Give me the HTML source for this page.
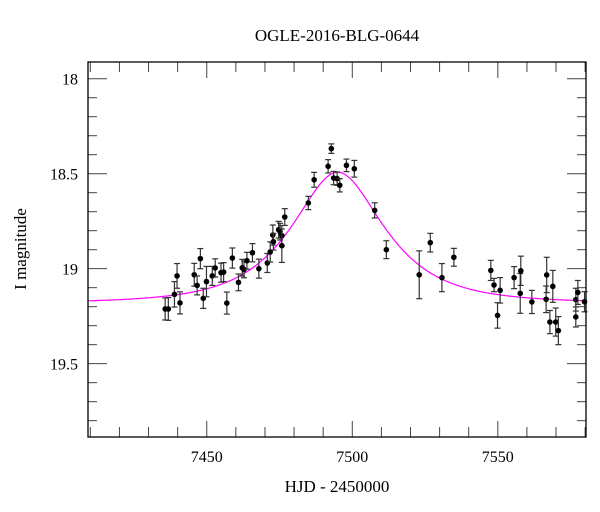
<!DOCTYPE html>
<html><head><meta charset="utf-8"><style>
body{margin:0;background:#fff}
svg{display:block;font-family:"Liberation Serif",serif}
</style></head><body>
<svg id="chart" width="600" height="512" viewBox="0 0 600 512" xmlns="http://www.w3.org/2000/svg">
<text x="337" y="41" text-anchor="middle" font-size="17">OGLE-2016-BLG-0644</text>
<text x="337" y="492" text-anchor="middle" font-size="17">HJD - 2450000</text>
<text transform="translate(26,249) rotate(-90)" text-anchor="middle" font-size="17">I magnitude</text>
<g id="axes"></g>
<g id="model"></g>
<g id="points"></g>
<rect x="88" y="62" width="498" height="375" fill="none" stroke="#000" stroke-width="1.3"/>
</svg>
<script>
const hjd=[7435.7,7436.8,7438.9,7439.8,7440.8,7445.7,7446.7,7447.8,7448.8,7449.9,7451.9,7452.9,7454.9,7455.8,7456.9,7458.8,7460.9,7462.2,7462.8,7463.8,7465.7,7467.9,7470.8,7471.8,7472.7,7472.9,7474.7,7475.2,7475.8,7475.8,7476.8,7484.9,7486.9,7491.7,7492.8,7493.6,7494.8,7495.7,7498.0,7500.7,7507.7,7511.7,7523.0,7526.8,7530.8,7534.9,7547.6,7548.7,7549.9,7550.8,7555.6,7557.7,7557.9,7561.7,7566.6,7566.8,7567.9,7568.9,7569.9,7570.8,7576.8,7576.8,7577.5,7579.8];
const mag=[19.212,19.212,19.135,19.038,19.18,19.032,19.088,18.947,19.156,19.068,19.038,18.996,19.021,19.018,19.181,18.944,19.072,18.995,19.004,18.958,18.916,19.0,18.97,18.912,18.823,18.858,18.795,18.805,18.826,18.879,18.728,18.654,18.532,18.461,18.368,18.523,18.526,18.561,18.456,18.474,18.693,18.9,19.032,18.863,19.047,18.94,19.009,19.086,19.246,19.114,19.047,19.13,19.011,19.175,19.161,19.033,19.281,19.093,19.281,19.326,19.163,19.254,19.125,19.174];
const magErr=[0.058,0.06,0.067,0.065,0.058,0.06,0.05,0.053,0.053,0.08,0.05,0.048,0.05,0.05,0.058,0.053,0.044,0.044,0.044,0.044,0.048,0.05,0.05,0.053,0.053,0.044,0.044,0.044,0.053,0.088,0.044,0.035,0.039,0.035,0.025,0.035,0.035,0.035,0.033,0.044,0.04,0.047,0.126,0.049,0.074,0.047,0.053,0.035,0.067,0.067,0.058,0.105,0.077,0.061,0.07,0.093,0.061,0.084,0.074,0.074,0.06,0.053,0.063,0.053];
const xTicks=[7450,7500,7550];
const yTicks=[18,18.5,19,19.5];
const model={base:19.18,t0:7495,u0:0.6,tE:25};
const X0=88,X1=586,Y0=62,Y1=437,xmin=7409.2,xmax=7580.3,ymin=17.912,ymax=19.886;
const sx=v=>X0+(v-xmin)/(xmax-xmin)*(X1-X0);
const sy=v=>Y0+(v-ymin)/(ymax-ymin)*(Y1-Y0);
const NS="http://www.w3.org/2000/svg";
function mk(tag,attrs,parent){const e=document.createElementNS(NS,tag);for(const k in attrs)e.setAttribute(k,attrs[k]);parent.appendChild(e);return e;}
const axes=document.getElementById('axes');
for(let t=7410;t<=7580;t+=10){
  const major=xTicks.includes(t);const L=major?16:10;const x=sx(t);
  const a=mk('line',{x1:x,x2:x,y1:Y1,y2:Y1-L,stroke:'#444','stroke-width':1},axes);
  
  
  const b=mk('line',{x1:x,x2:x,y1:Y0,y2:Y0+L,stroke:'#444','stroke-width':1},axes);
  
  
}
xTicks.forEach(t=>{const tx=mk('text',{x:sx(t),y:462,'text-anchor':'middle','font-size':16},axes);tx.textContent=t;
  
  });
for(let i=0;i<=19;i++){
  const v=18+i*0.1;if(v>ymax)break;
  const major=yTicks.some(t=>Math.abs(t-v)<1e-6);const L=major?19:9;const y=sy(v);
  const a=mk('line',{x1:X0,x2:X0+L,y1:y,y2:y,stroke:'#444','stroke-width':1},axes);
  
  
  const b=mk('line',{x1:X1,x2:X1-L,y1:y,y2:y,stroke:'#444','stroke-width':1},axes);
  
  
}
yTicks.forEach(t=>{const tx=mk('text',{x:78,y:sy(t)+6,'text-anchor':'end','font-size':16},axes);tx.textContent=String(t);
  
  });
// model curve
let d='';
for(let x=X0;x<=X1;x+=1){
  const t=xmin+(x-X0)/(X1-X0)*(xmax-xmin);
  const tau=(t-model.t0)/model.tE;const u=Math.sqrt(model.u0*model.u0+tau*tau);
  const A=(u*u+2)/(u*Math.sqrt(u*u+4));const m=model.base-2.5*Math.log10(A);
  d+=(d?'L':'M')+x.toFixed(1)+','+sy(m).toFixed(1);
}
const mp=mk('path',{d:d,fill:'none',stroke:'#ff00ff','stroke-width':1.2},document.getElementById('model'));


const pts=document.getElementById('points');
hjd.forEach((t,i)=>{
  const x=sx(t),y=sy(mag[i]),e1=sy(mag[i]-magErr[i]),e2=sy(mag[i]+magErr[i]);
  const g=mk('g',{},pts);
  
  
  mk('line',{x1:x,x2:x,y1:e1,y2:e2,stroke:'#333','stroke-width':1.2},g);
  mk('line',{x1:x-3,x2:x+3,y1:e1,y2:e1,stroke:'#333','stroke-width':1.2},g);
  mk('line',{x1:x-3,x2:x+3,y1:e2,y2:e2,stroke:'#333','stroke-width':1.2},g);
  mk('circle',{cx:x,cy:y,r:2.8,fill:'#000'},g);
});
</script>
</body></html>
